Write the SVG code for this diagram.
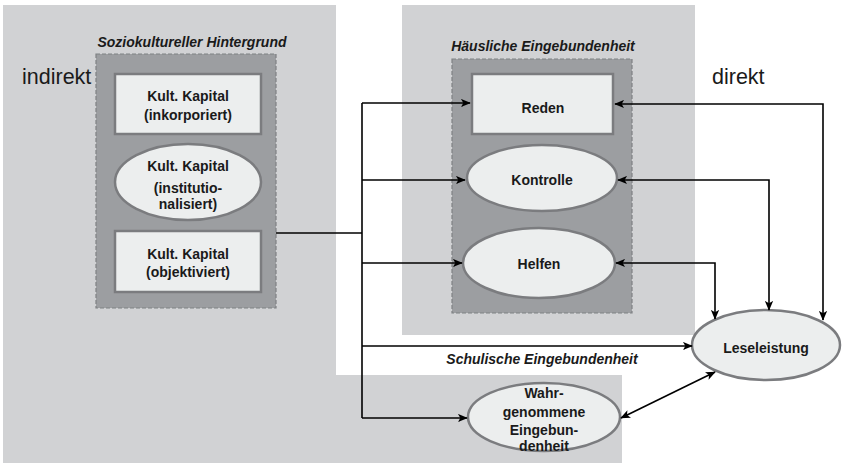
<svg xmlns="http://www.w3.org/2000/svg" width="844" height="464" viewBox="0 0 844 464">
<defs>
<style>
.bg{fill:#d1d2d4}
.inner{fill:#9c9ea1;stroke:#7f8184;stroke-width:1.2;stroke-dasharray:4 2}
.node{fill:#eceeee;stroke:#7b7c7f;stroke-width:2.5}
.t{font-family:"Liberation Sans",Arial,sans-serif;font-weight:bold;font-size:14px;fill:#1a1a1a;text-anchor:middle}
.title{font-family:"Liberation Sans",Arial,sans-serif;font-weight:bold;font-style:italic;font-size:14px;fill:#1a1a1a;text-anchor:middle}
.big{font-family:"Liberation Sans",Arial,sans-serif;font-size:21.5px;fill:#1a1a1a}
.c{fill:none;stroke:#000;stroke-width:1.6}
</style>
<marker id="ah" viewBox="0 0 12 10" refX="11" refY="5" markerWidth="10" markerHeight="9" orient="auto-start-reverse" markerUnits="userSpaceOnUse">
<path d="M0,0 L12,5 L0,10 L3,5 z" fill="#000"/>
</marker>
</defs>
<g id="backgrounds">
<rect class="bg" x="3" y="5" width="333" height="458"/>
<rect class="bg" x="335" y="375" width="287" height="88"/>
<rect class="bg" x="402" y="5" width="293" height="330"/>
</g>
<g id="sozio">
<text class="title" x="192" y="47">Soziokultureller Hintergrund</text>
<rect class="inner" x="96" y="54" width="180" height="254"/>
</g>
<g id="haeuslich">
<text class="title" x="543" y="51">Häusliche Eingebundenheit</text>
<rect class="inner" x="452" y="59" width="180" height="254"/>
</g>
<text class="big" x="22" y="84">indirekt</text>
<text class="big" x="712" y="84">direkt</text>
<text class="title" x="542" y="364">Schulische Eingebundenheit</text>
<g id="kk-ink">
<rect class="node" x="115" y="74" width="146" height="60"/>
<text class="t" x="188" y="101">Kult. Kapital</text>
<text class="t" x="188" y="120">(inkorporiert)</text>
</g>
<g id="kk-inst">
<ellipse class="node" cx="188" cy="182" rx="73" ry="38"/>
<text class="t" x="188" y="171">Kult. Kapital</text>
<text class="t" x="188" y="193">(institutio-</text>
<text class="t" x="188" y="209">nalisiert)</text>
</g>
<g id="kk-obj">
<rect class="node" x="115" y="231" width="146" height="61"/>
<text class="t" x="188" y="259">Kult. Kapital</text>
<text class="t" x="188" y="277">(objektiviert)</text>
</g>
<g id="reden">
<rect class="node" x="472" y="74" width="141" height="60"/>
<text class="t" x="543" y="113">Reden</text>
</g>
<g id="kontrolle">
<ellipse class="node" cx="542" cy="178" rx="75" ry="33"/>
<text class="t" x="542" y="185">Kontrolle</text>
</g>
<g id="helfen">
<ellipse class="node" cx="539" cy="263" rx="76" ry="35"/>
<text class="t" x="539" y="269">Helfen</text>
</g>
<g id="leseleistung">
<ellipse class="node" cx="766" cy="345" rx="74" ry="35"/>
<text class="t" x="766" y="353">Leseleistung</text>
</g>
<g id="wahrgenommen">
<ellipse class="node" cx="544" cy="417" rx="76" ry="34"/>
<text class="t" x="544" y="398">Wahr-</text>
<text class="t" x="544" y="417">genommene</text>
<text class="t" x="544" y="435">Eingebun-</text>
<text class="t" x="544" y="451">denheit</text>
</g>
<g id="connectors">
<path class="c" d="M276,233 H362"/>
<path class="c" d="M362,103 V418"/>
<path class="c" d="M362,103 H470" marker-end="url(#ah)"/>
<path class="c" d="M362,180 H465" marker-end="url(#ah)"/>
<path class="c" d="M362,263 H462" marker-end="url(#ah)"/>
<path class="c" d="M362,346 H692" marker-end="url(#ah)"/>
<path class="c" d="M362,418 H467" marker-end="url(#ah)"/>
<path class="c" d="M615,104 H823 V320" marker-start="url(#ah)" marker-end="url(#ah)"/>
<path class="c" d="M618,180 H769 V310" marker-start="url(#ah)" marker-end="url(#ah)"/>
<path class="c" d="M616,263 H715 V319" marker-start="url(#ah)" marker-end="url(#ah)"/>
<path class="c" d="M621,418 L715,372" marker-start="url(#ah)" marker-end="url(#ah)"/>
</g>
</svg>
